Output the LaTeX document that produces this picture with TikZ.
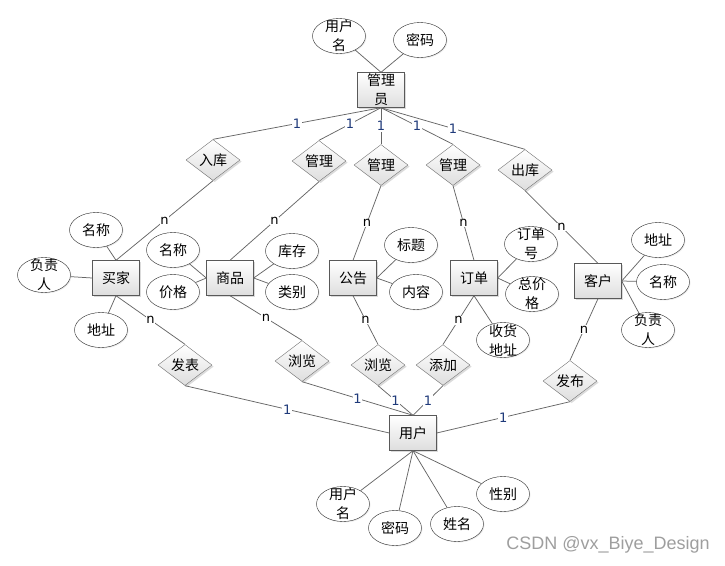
\documentclass[tikz,border=0pt]{standalone}
\usepackage{fontspec}
\newfontfamily\cjk{Noto Sans CJK SC}
\newfontfamily\lat{Liberation Sans}
\newfontfamily\dvs{DejaVu Sans}
\usetikzlibrary{shapes.geometric,shadows}
\definecolor{lnc}{HTML}{666666}
\definecolor{onec}{HTML}{1F3A7A}
\begin{document}
\begin{tikzpicture}[x=1pt,y=-1pt,
  font=\cjk\fontsize{14}{19}\selectfont,
  shd/.style={drop shadow={shadow xshift=1.6pt,shadow yshift=-1.6pt,fill=black!28}},
  ent/.style={rectangle,draw=black!65,top color=white,bottom color=black!13,
    minimum width=47pt,minimum height=35pt,inner sep=0pt,align=center,shd},
  rel/.style={diamond,draw=black!55,top color=white,bottom color=black!13,
    minimum width=54pt,minimum height=32pt,inner sep=0pt,shd},
  attr/.style={ellipse,draw=black!85,fill=white,minimum width=53pt,minimum height=35pt,
    inner sep=0pt,drop shadow={shadow xshift=1pt,shadow yshift=-1pt,fill=black!15}},
  atx/.style={align=center,inner sep=0pt,font=\cjk\fontsize{14}{19}\selectfont},
  lk/.style={draw=lnc,line width=0.75pt},
  one/.style={fill=white,inner sep=0.8pt,text=onec,font=\dvs\fontsize{13}{13}\selectfont},
  many/.style={fill=white,inner sep=0.8pt,text=black,font=\dvs\fontsize{13}{13}\selectfont}]
\path[use as bounding box] (0,0) rectangle (725,565);

% entities
\node[ent] (mgr) at (381,90) {管理\\员};
\node[ent] (buyer) at (116,278) {买家};
\node[ent] (goods) at (230,278) {商品};
\node[ent] (notice) at (353,278) {公告};
\node[ent] (order) at (474,278) {订单};
\node[ent] (cust) at (598,281) {客户};
\node[ent] (user) at (413,433) {用户};

% attributes
\node[attr,label={[atx]center:用户\\名}] (mname) at (339,36) {};
\node[attr,label={[atx]center:密码}] (mpwd) at (420,40) {};
\node[attr,label={[atx]center:名称}] (bname) at (96,230) {};
\node[attr,label={[atx]center:负责\\人}] (bresp) at (44,275) {};
\node[attr,label={[atx]center:地址}] (baddr) at (101,330) {};
\node[attr,label={[atx]center:名称}] (gname) at (173,250) {};
\node[attr,label={[atx]center:价格}] (gprice) at (173,292) {};
\node[attr,label={[atx]center:库存}] (gstock) at (292,251) {};
\node[attr,label={[atx]center:类别}] (gcat) at (292,292) {};
\node[attr,label={[atx]center:标题}] (ntitle) at (411,245) {};
\node[attr,label={[atx]center:内容}] (ncont) at (416,292) {};
\node[attr,label={[atx]center:订单\\号}] (ono) at (531,244) {};
\node[attr,label={[atx]center:总价\\格}] (ototal) at (532,294) {};
\node[attr,label={[atx]center:收货\\地址}] (oaddr) at (503,340) {};
\node[attr,label={[atx]center:地址}] (caddr) at (658,240) {};
\node[attr,label={[atx]center:名称}] (cname) at (663,282) {};
\node[attr,label={[atx]center:负责\\人}] (cresp) at (648,330) {};
\node[attr,label={[atx]center:用户\\名}] (uname) at (343,504) {};
\node[attr,label={[atx]center:密码}] (upwd) at (395,528) {};
\node[attr,label={[atx]center:姓名}] (urname) at (457,524) {};
\node[attr,label={[atx]center:性别}] (usex) at (503,494) {};

% relationships
\node[rel] (rk) at (213,160) {入库};
\node[rel] (gl1) at (319,161) {管理};
\node[rel] (gl2) at (381,165) {管理};
\node[rel] (gl3) at (453,165) {管理};
\node[rel] (ck) at (525,170) {出库};
\node[rel] (fb) at (185,365) {发表};
\node[rel] (ll1) at (302,361) {浏览};
\node[rel] (ll2) at (378,365) {浏览};
\node[rel] (tj) at (443,365) {添加};
\node[rel] (fbu) at (570,381) {发布};

% attribute links
\draw[lk] (mgr.north) -- (mname);
\draw[lk] (mgr.north) -- (mpwd);
\draw[lk] (buyer.north) -- (bname);
\draw[lk] (buyer.west) -- (bresp);
\draw[lk] (buyer.south) -- (baddr);
\draw[lk] (goods.west) -- (gname);
\draw[lk] (goods.west) -- (gprice);
\draw[lk] (goods.east) -- (gstock);
\draw[lk] (goods.east) -- (gcat);
\draw[lk] (notice.east) -- (ntitle);
\draw[lk] (notice.east) -- (ncont);
\draw[lk] (order.east) -- (ono);
\draw[lk] (order.east) -- (ototal);
\draw[lk] (order.south) -- (oaddr);
\draw[lk] (cust.east) -- (caddr);
\draw[lk] (cust.east) -- (cname);
\draw[lk] (cust.east) -- (cresp);
\draw[lk] (user.south) -- (uname);
\draw[lk] (user.south) -- (upwd);
\draw[lk] (user.south) -- (urname);
\draw[lk] (user.south) -- (usex);

% relationship links
\draw[lk] (mgr.south) -- node[one]{1} (rk.north);
\draw[lk] (mgr.south) -- node[one]{1} (gl1.north);
\draw[lk] (mgr.south) -- node[one]{1} (gl2.north);
\draw[lk] (mgr.south) -- node[one]{1} (gl3.north);
\draw[lk] (mgr.south) -- node[one]{1} (ck.north);
\draw[lk] (rk.south) -- node[many]{n} (buyer.north);
\draw[lk] (gl1.south) -- node[many]{n} (goods.north);
\draw[lk] (gl2.south) -- node[many]{n} (notice.north);
\draw[lk] (gl3.south) -- node[many]{n} (order.north);
\draw[lk] (ck.south) -- node[many]{n} (cust.north);
\draw[lk] (buyer.south) -- node[many]{n} (fb.north);
\draw[lk] (fb.south) -- node[one]{1} (user.west);
\draw[lk] (goods.south) -- node[many]{n} (ll1.north);
\draw[lk] (ll1.south) -- node[one]{1} (user.north);
\draw[lk] (notice.south) -- node[many]{n} (ll2.north);
\draw[lk] (ll2.south) -- node[one]{1} (user.north);
\draw[lk] (order.south) -- node[many]{n} (tj.north);
\draw[lk] (tj.south) -- node[one]{1} (user.north);
\draw[lk] (cust.south) -- node[many]{n} (fbu.north);
\draw[lk] (fbu.south) -- node[one]{1} (user.east);

% watermark
\node[font=\lat\fontsize{18}{18}\selectfont,text=black!38] (wm) at (608,545) {CSDN @vx\_Biye\_Design};
\end{tikzpicture}
\end{document}
